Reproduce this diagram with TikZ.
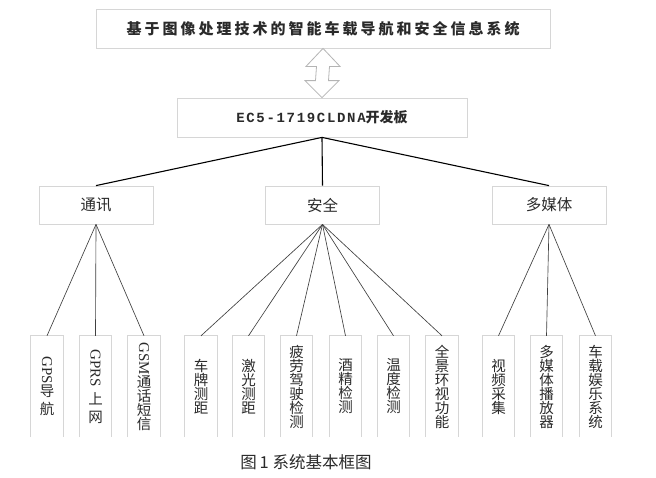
\documentclass[tikz,border=0pt]{standalone}
\usepackage{fontspec}
\setmainfont{Liberation Serif}
\newfontfamily\cjk{Noto Sans CJK SC}
\newfontfamily\cjkt[LetterSpace=20]{Noto Sans CJK SC}
\newfontfamily\monob[LetterSpace=12]{Liberation Mono Bold}
\usetikzlibrary{calc}
\definecolor{boxgray}{HTML}{D6D6D6}
\definecolor{arrgray}{HTML}{B4B4B4}
\definecolor{txt}{HTML}{2A2A2A}
\begin{document}
\begin{tikzpicture}[x=1pt,y=-1pt,
  topbox/.style={draw=boxgray, line width=0.8pt, minimum height=39pt, inner sep=0pt, text=txt},
  catbox/.style={draw=boxgray, line width=0.8pt, minimum width=114pt, minimum height=38pt, inner sep=0pt,
    font=\cjk\fontsize{15.5}{15.5}\selectfont, text=txt},
  leaf/.style={minimum width=32pt, minimum height=101pt, inner sep=0pt, align=center,
    font=\cjk\fontsize{14.5}{14}\selectfont, text=txt},
  leafborder/.style={draw=boxgray, line width=0.7pt},
  mainline/.style={line width=1.1pt, black},
  leafline/.style={line width=0.65pt, black!75},
  arrowstyle/.style={draw=arrgray, line width=0.8pt, fill=white}]
\useasboundingbox (0,0) rectangle (656,477);
\fill[white] (0,0) rectangle (656,477);

% top level
\node[topbox, minimum width=454pt] (title) at (323,28.5)
  {\cjkt\bfseries\fontsize{15}{15}\selectfont 基于图像处理技术的智能车载导航和安全信息系统};
\node[topbox, minimum width=290pt] (board) at (322,117.5)
  {{\monob\fontsize{14}{14}\selectfont EC5-1719CLDNA}{\cjk\bfseries\fontsize{14}{14}\selectfont 开发板}};

% double hollow arrow
\draw[arrowstyle] (title.south) -- ++(17,18) -- ++(-10.5,0)
  -- ($(board.north)+(6.5,-17)$) -- ++(10.5,0) -- (board.north)
  -- ++(-17,-17) -- ++(10.5,0) -- ($(title.south)+(-6.5,18)$) -- ++(-10.5,0) -- cycle;

% categories
\node[catbox] (c1) at (96,205) {通讯};
\node[catbox] (c2) at (322.5,205) {安全};
\node[catbox] (c3) at (549,205) {多媒体};

\foreach \c in {c1,c2,c3} \draw[mainline] (board.south) -- (\c.north);

% leaves
\node[leaf] (l1) at (47,386.5) {\rotatebox[origin=c]{-90}{\rmfamily\fontsize{15}{15}\selectfont GPS}\\导\\[4pt]航};
\node[leaf] (l2) at (95.5,386.5) {\rotatebox[origin=c]{-90}{\rmfamily\fontsize{15}{15}\selectfont GPRS}\\[4pt]上\\[4pt]网};
\node[leaf] (l3) at (144,386.5) {\rotatebox[origin=c]{-90}{\rmfamily\fontsize{15}{15}\selectfont GSM}\\通\\话\\短\\信};
\node[leaf] (l4) at (201,386.5) {车\\牌\\测\\距};
\node[leaf] (l5) at (248.5,386.5) {激\\光\\测\\距};
\node[leaf] (l6) at (296.5,386.5) {疲\\劳\\驾\\驶\\检\\测};
\node[leaf] (l7) at (345.5,386.5) {酒\\精\\检\\测};
\node[leaf] (l8) at (393.5,386.5) {温\\度\\检\\测};
\node[leaf] (l9) at (442,386.5) {全\\景\\环\\视\\功\\能};
\node[leaf] (l10) at (498.5,386.5) {视\\频\\采\\集};
\node[leaf] (l11) at (546.5,386.5) {多\\媒\\体\\播\\放\\器};
\node[leaf] (l12) at (595.5,386.5) {车\\载\\娱\\乐\\系\\统};

\foreach \l in {l1,l2,l3,l4,l5,l6,l7,l8,l9,l10,l11,l12}
  \draw[leafborder] (\l.south west) -- (\l.north west) -- (\l.north east) -- (\l.south east);

\foreach \l in {l1,l2,l3} \draw[leafline] (c1.south) -- (\l.north);
\foreach \l in {l4,l5,l6,l7,l8,l9} \draw[leafline] (c2.south) -- (\l.north);
\foreach \l in {l10,l11,l12} \draw[leafline] (c3.south) -- (\l.north);

% caption
\node[font=\cjk\fontsize{16.5}{16.5}\selectfont, text=txt] (cap) at (306,462) {图\,1\ 系统基本框图};
\end{tikzpicture}
\end{document}
